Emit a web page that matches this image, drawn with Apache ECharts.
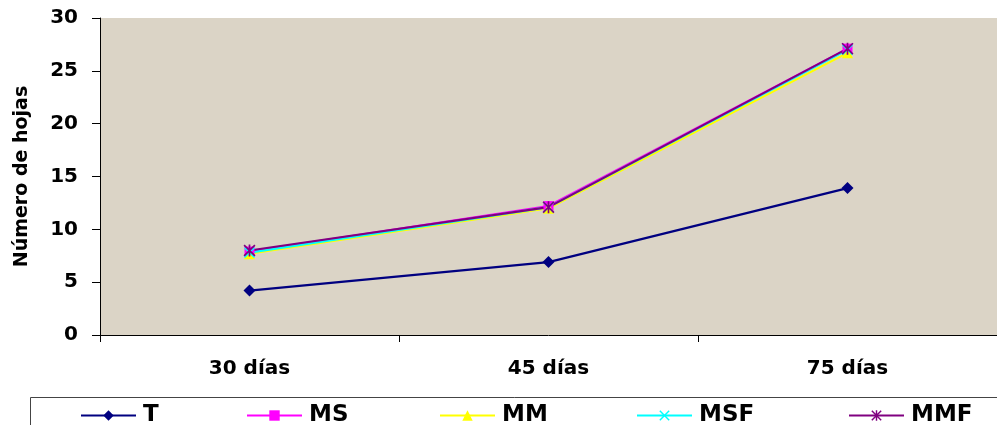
<!DOCTYPE html>
<html>
<head>
<meta charset="utf-8">
<script src="https://cdn.jsdelivr.net/npm/echarts@6/dist/echarts.min.js"></script>
<style>
  html, body { margin: 0; padding: 0; background: #fff; }
  #chart { width: 997px; height: 425px; }
</style>
</head>
<body>
<div id="chart"></div>
<script>
// datos
var categorias = ['30 días', '45 días', '75 días'];
var T   = [4.2, 6.9, 13.9];
var MS  = [7.9, 12.2, 27.1];
var MM  = [7.7, 12.0, 26.7];
var MSF = [7.8, 12.1, 27.0];
var MMF = [8.0, 12.1, 27.1];
var nombres = ['T', 'MS', 'MM', 'MSF', 'MMF'];

// símbolos
var simboloX = 'path://M0,1 L1,0 L5,4 L9,0 L10,1 L6,5 L10,9 L9,10 L5,6 L1,10 L0,9 L4,5 Z';
var simboloAst = simboloX + ' M4.3,0 L5.7,0 L5.7,10 L4.3,10 Z';

var fuente = 'DejaVu Sans, Arial';

var chart = echarts.init(document.getElementById('chart'));

function serie(nombre, datos, color, simbolo, tam) {
  return {
    name: nombre,
    type: 'line',
    data: datos,
    symbol: simbolo,
    symbolSize: tam,
    showAllSymbol: true,
    lineStyle: { color: color, width: 2.2 },
    itemStyle: { color: color, borderWidth: 0 },
    emphasis: { disabled: true },
    z: 3
  };
}

// leyendas separadas para ubicarlas como en el original
var posLeyenda = [75, 241, 434, 631, 843];
var leyendas = nombres.map(function (n, i) {
  return {
    data: [n],
    left: posLeyenda[i],
    top: 399,
    itemWidth: 55,
    itemHeight: 13,
    itemGap: 4,
    selectedMode: false,
    textStyle: { fontFamily: fuente, fontWeight: 'bold', fontSize: 23, color: '#000', padding: [0, 0, 0, 2] }
  };
});

var option = {
  animation: false,
  backgroundColor: '#fff',
  grid: {
    left: 100, right: 0, top: 18, bottom: 90,
    outerBoundsMode: 'none',
    show: true, backgroundColor: '#dbd4c6', borderWidth: 0
  },
  legend: leyendas,
  graphic: [{
    type: 'rect',
    shape: { x: 30.5, y: 397.5, width: 980, height: 40 },
    style: { fill: 'none', stroke: '#444', lineWidth: 1 },
    silent: true
  }],
  xAxis: {
    type: 'category',
    data: categorias,
    boundaryGap: true,
    axisLine: { lineStyle: { color: '#000', width: 1 } },
    axisTick: { show: true, length: 7, lineStyle: { color: '#000' } },
    axisLabel: { margin: 24, fontFamily: fuente, fontWeight: 'bold', fontSize: 20, color: '#000' }
  },
  yAxis: {
    type: 'value',
    min: 0,
    max: 30,
    interval: 5,
    name: 'Número de hojas',
    nameLocation: 'middle',
    nameRotate: 90,
    nameGap: 68,
    nameTextStyle: { fontFamily: fuente, fontWeight: 'bold', fontSize: 19, color: '#000' },
    axisLine: { show: true, lineStyle: { color: '#000', width: 1 } },
    axisTick: { show: true, length: 8, lineStyle: { color: '#000' } },
    splitLine: { show: false },
    axisLabel: { margin: 22, fontFamily: fuente, fontWeight: 'bold', fontSize: 20, color: '#000' }
  },
  series: [
    serie('T', T, '#000080', 'diamond', 12),
    serie('MS', MS, '#ff00ff', 'rect', 10),
    serie('MM', MM, '#ffff00', 'triangle', 11),
    serie('MSF', MSF, '#00ffff', simboloX, 11),
    serie('MMF', MMF, '#800080', simboloAst, 12)
  ]
};

chart.setOption(option);
</script>
</body>
</html>
